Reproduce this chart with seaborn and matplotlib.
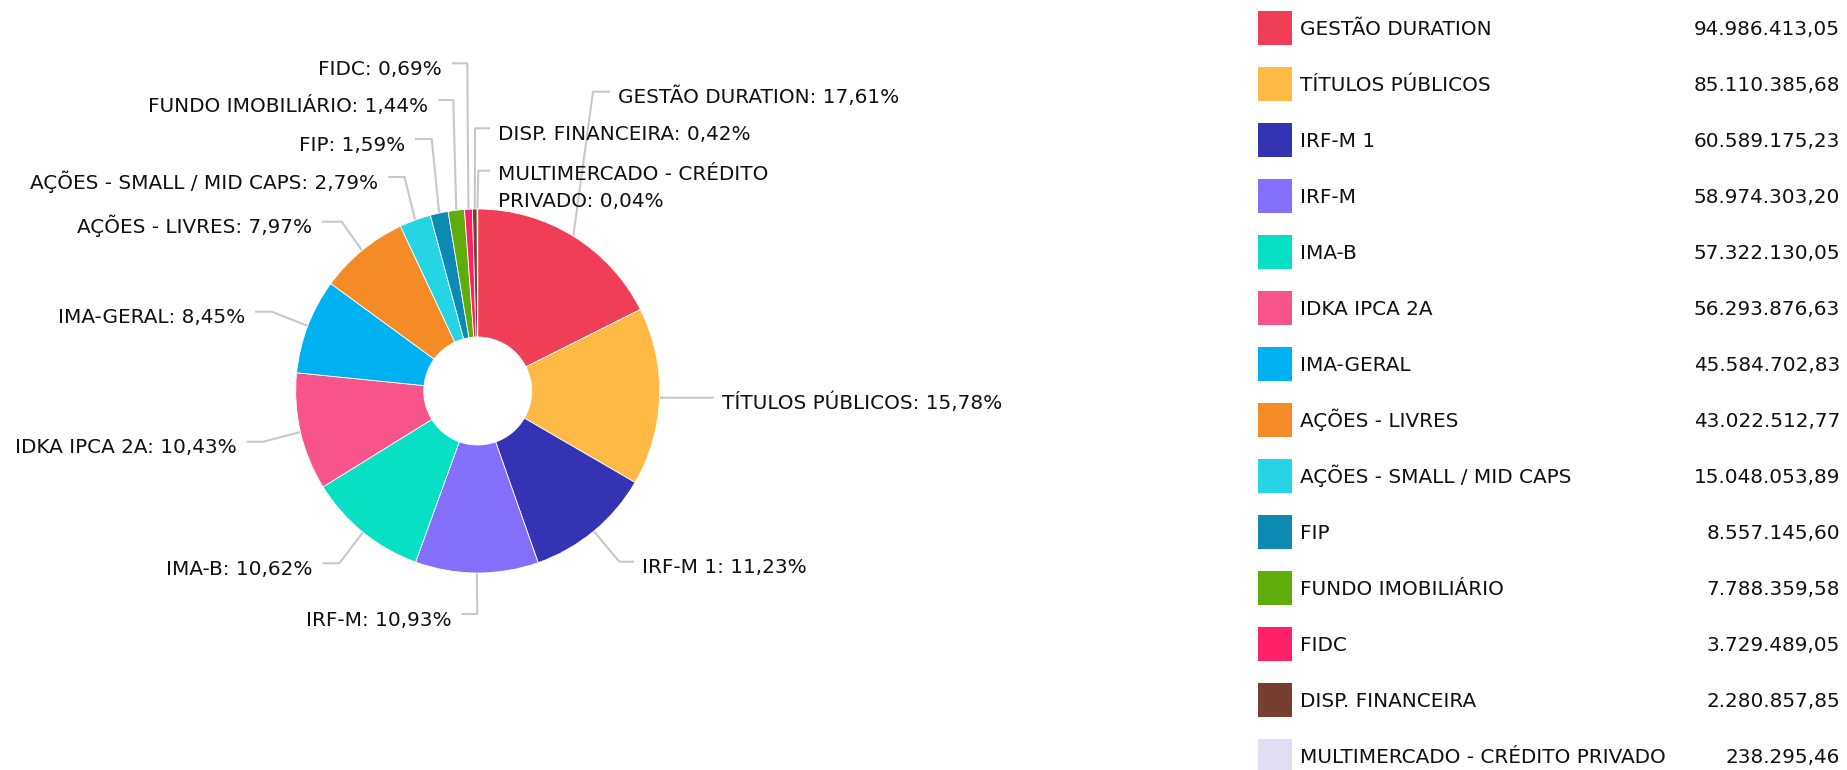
import matplotlib
matplotlib.use('Agg')
import numpy as np
import matplotlib.pyplot as plt
from matplotlib.patches import Rectangle
import seaborn as sns

# data
categories = ['GESTÃO DURATION', 'TÍTULOS PÚBLICOS', 'IRF-M 1', 'IRF-M', 'IMA-B',
              'IDKA IPCA 2A', 'IMA-GERAL', 'AÇÕES - LIVRES', 'AÇÕES - SMALL / MID CAPS',
              'FIP', 'FUNDO IMOBILIÁRIO', 'FIDC', 'DISP. FINANCEIRA',
              'MULTIMERCADO - CRÉDITO PRIVADO']
values = [94986413.05, 85110385.68, 60589175.23, 58974303.20, 57322130.05,
          56293876.63, 45584702.83, 43022512.77, 15048053.89,
          8557145.60, 7788359.58, 3729489.05, 2280857.85,
          238295.46]
colors = ['#EF3E55', '#FFBA45', '#3333B4', '#836FFA', '#08E0C6',
          '#F8548C', '#00B1F2', '#F58B26', '#26D5E4',
          '#0C8AB2', '#5FAD0A', '#FF2068', '#773F30',
          '#E1DEF2']

# layout (pixels, y down)
W, H = 1847, 770
CX, CY, R, RIN = 477.7, 391.0, 182.0, 54.0
# per slice: bend point x, bend/label line y, end of horizontal stub x, wrap label
LABEL_LAYOUT = [
    (593.0, 91.7, 610.0, False),
    (660.0, 397.7, 714.0, False),
    (619.3, 561.7, 634.0, False),
    (477.3, 614.0, 461.7, False),
    (339.3, 563.3, 322.7, False),
    (263.3, 441.7, 246.7, False),
    (271.7, 311.7, 255.0, False),
    (341.7, 221.7, 321.7, False),
    (404.5, 177.0, 388.3, False),
    (431.7, 139.0, 415.0, False),
    (453.3, 100.0, 438.3, False),
    (467.3, 63.3, 451.7, False),
    (475.0, 128.3, 490.0, False),
    (478.3, 170.7, 490.0, True),
]
LINE_COLOR = '#C8C8C8'
TEXT_COLOR = '#111111'
FS = 14.4

sns.set_theme(style='white')
plt.rcParams['font.family'] = ['DejaVu Sans']


def brl(v):
    s = f'{v:,.2f}'
    return s.replace(',', 'X').replace('.', ',').replace('X', '.')


total = sum(values)
pcts = [v / total * 100 for v in values]

fig = plt.figure(figsize=(W / 100, H / 100), dpi=100)
ax = fig.add_axes([0, 0, 1, 1])
wedges, _ = ax.pie(values, colors=colors, startangle=-90, counterclock=True,
                   radius=R, center=(CX, CY),
                   wedgeprops=dict(width=R - RIN, edgecolor='white', linewidth=0.6))
ax.set_xlim(0, W)
ax.set_ylim(H, 0)
ax.set_aspect('equal')
ax.axis('off')

for w, name, pct, (bx, by, endx, wrap) in zip(wedges, categories, pcts, LABEL_LAYOUT):
    mid = np.deg2rad((w.theta1 + w.theta2) / 2)
    ex, ey = CX + R * np.cos(mid), CY + R * np.sin(mid)
    ax.plot([ex, bx, endx], [ey, by, by], color=LINE_COLOR, lw=1.5,
            solid_capstyle='butt', zorder=0)
    label = f'{name}: ' + f'{pct:.2f}'.replace('.', ',') + '%'
    lines = [label]
    if wrap:
        parts = label.rsplit(' ', 2)
        lines = [parts[0], ' '.join(parts[1:])]
    right = endx > bx
    tx = endx + 8 if right else endx - 10
    for k, ln in enumerate(lines):
        ax.text(tx, by + 11.7 - (2.4 if wrap else 0) + k * 26.7, ln,
                ha='left' if right else 'right', va='baseline',
                fontsize=FS, color=TEXT_COLOR)

# legend on the right
LEG_X, LEG_Y0, LEG_DY, SQ = 1258, 28, 56, 34
for i, (name, v, c) in enumerate(zip(categories, values, colors)):
    y = LEG_Y0 + i * LEG_DY
    ax.add_patch(Rectangle((LEG_X, y - SQ / 2), SQ, SQ, facecolor=c, edgecolor='none'))
    ax.text(LEG_X + 42, y + 7.3, name, ha='left', va='baseline', fontsize=FS, color=TEXT_COLOR)
    ax.text(1840, y + 7.3, brl(v), ha='right', va='baseline', fontsize=FS, color=TEXT_COLOR)

fig.savefig('out.png', dpi=100, facecolor='white')
